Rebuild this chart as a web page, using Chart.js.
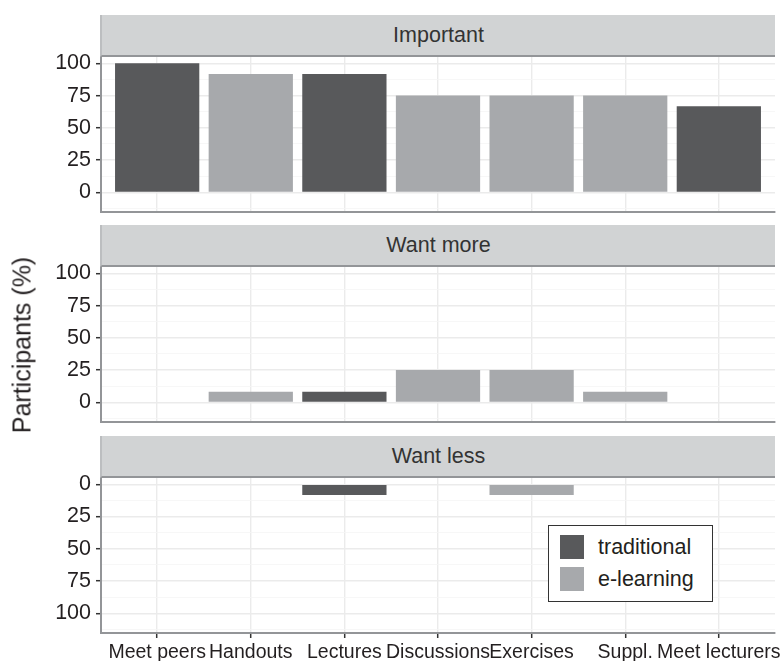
<!DOCTYPE html>
<html>
<head>
<meta charset="utf-8">
<script src="https://cdn.jsdelivr.net/npm/chart.js@4.4.1/dist/chart.umd.min.js"></script>
<style>
html,body{margin:0;padding:0;background:#fff;overflow:hidden}
#wrap{position:relative;width:782px;height:661px;font-family:"Liberation Sans",Arial,Helvetica,sans-serif;overflow:hidden}
canvas{position:absolute;left:0;z-index:1}
.strip{position:absolute;left:100px;width:675px;height:42px;background:#D1D3D4;border-bottom:2px solid #939598;border-left:2px solid #BCBEC0;box-sizing:border-box;display:flex;align-items:center;justify-content:center;font-size:21.5px;color:#333;z-index:2}
#ytitle{position:absolute;left:22px;top:345px;transform:translate(-50%,-50%) rotate(-90deg);white-space:nowrap;font-size:25px;color:#231F20;z-index:2}
#legend{position:absolute;left:548px;top:525px;width:165px;height:77px;border:1px solid #333;box-sizing:border-box;background:#fff;z-index:3}
.key{position:absolute;left:11px;width:24px;height:24px}
.lab{position:absolute;left:49px;font-size:21.5px;color:#231F20;line-height:24px}
</style>
</head>
<body>
<div id="wrap">
  <div class="strip" id="s0" style="top:15px"></div>
  <div class="strip" id="s1" style="top:225px"></div>
  <div class="strip" id="s2" style="top:436px"></div>
  <canvas id="c0" width="782" height="168" style="top:47px"></canvas>
  <canvas id="c1" width="782" height="168" style="top:257px"></canvas>
  <canvas id="c2" width="782" height="193" style="top:468px"></canvas>
  <div id="ytitle"></div>
  <div id="legend"></div>
</div>
<script>
// ---- data ----
const categories = ["Meet peers", "Handouts", "Lectures", "Discussions", "Exercises", "Suppl.", "Meet lecturers"];
const format = ["traditional", "e-learning", "traditional", "e-learning", "e-learning", "e-learning", "traditional"];
const important = [100, 91.67, 91.67, 75, 75, 75, 66.67];
const wantMore = [0, 8.33, 8.33, 25, 25, 8.33, 0];
const wantLess = [0, 0, 8.33, 0, 8.33, 0, 0];
const yTickLabels = [0, 25, 50, 75, 100];
const panelTitles = ["Important", "Want more", "Want less"];
const seriesNames = ["traditional", "e-learning"];
const yTitle = "Participants (%)";

// ---- styles ----
const FONT = '"Liberation Sans", Arial, Helvetica, sans-serif';
const colors = { "traditional": "#58595B", "e-learning": "#A7A9AC" };
Chart.defaults.font.family = FONT;

document.getElementById('ytitle').textContent = yTitle;
panelTitles.forEach((t, i) => document.getElementById('s' + i).textContent = t);

const lg = document.getElementById('legend');
seriesNames.forEach((n, i) => {
  const k = document.createElement('div');
  k.className = 'key'; k.style.top = (9 + i * 32) + 'px'; k.style.background = colors[n];
  const l = document.createElement('div');
  l.className = 'lab'; l.style.top = (9 + i * 32) + 'px'; l.textContent = n;
  lg.appendChild(k); lg.appendChild(l);
});

// grid values: labelled majors plus minor midpoints
const step = (yTickLabels[1] - yTickLabels[0]) / 2;
function gridValues(min, max) {
  const out = [];
  const lo = yTickLabels[0] - 2 * step, hi = yTickLabels[yTickLabels.length - 1] + 2 * step;
  for (let v = lo; v <= hi + 1e-9; v += step) {
    if (v >= min && v <= max) out.push(Math.round(v * 100) / 100);
  }
  return out;
}

function makePanel(id, values, cfg) {
  const isMajor = v => yTickLabels.includes(v);
  new Chart(document.getElementById(id), {
    type: 'bar',
    data: {
      datasets: [{
        data: categories.map((c, i) => ({ x: i, y: values[i] })),
        backgroundColor: format.map(f => colors[f]),
        borderWidth: 0,
        barPercentage: 0.9,
        categoryPercentage: 1
      }]
    },
    options: {
      responsive: false,
      animation: false,
      events: [],
      layout: { autoPadding: false, padding: { top: 10, right: 7, bottom: cfg.showX ? 0 : 3, left: 0 } },
      plugins: { legend: { display: false }, tooltip: { enabled: false } },
      scales: {
        x: {
          type: 'linear', bounds: 'data', min: -0.6, max: 6.6, offset: false,
          afterBuildTicks: s => { s.ticks = categories.map((c, i) => ({ value: i })); },
          afterFit: s => { s.height = cfg.showX ? 28 : 0; s.paddingLeft = 0; s.paddingRight = 0; s.paddingTop = 0; s.paddingBottom = 0; },
          ticks: {
            display: cfg.showX, autoSkip: false, maxRotation: 0, minRotation: 0,
            padding: 3, color: '#231F20', font: { size: 19.5 },
            callback: v => categories[v]
          },
          grid: { offset: false, color: '#EBEBEB', lineWidth: 1.4, drawTicks: cfg.showX, tickLength: 5, tickColor: '#333', tickWidth: 1.5 },
          border: { display: true, color: '#939598', width: 2 }
        },
        y: {
          type: 'linear', bounds: 'data', reverse: cfg.reverse, min: cfg.min, max: cfg.max,
          afterBuildTicks: s => { s.ticks = gridValues(cfg.min, cfg.max).map(v => ({ value: v })); },
          afterFit: s => { s.width = 101; s.paddingTop = 0; s.paddingBottom = 0; s.paddingLeft = 0; s.paddingRight = 0; },
          ticks: {
            autoSkip: false, padding: 5, color: '#231F20', font: { size: 21.5 },
            callback: v => isMajor(v) ? String(v) : ''
          },
          grid: {
            color: c => isMajor(c.tick.value) ? '#EBEBEB' : '#F5F5F5',
            lineWidth: c => isMajor(c.tick.value) ? 1.4 : 0.8,
            tickLength: 5,
            tickColor: c => isMajor(c.tick.value) ? '#333' : 'rgba(0,0,0,0)',
            tickWidth: 1.5
          },
          border: { display: true, color: '#939598', width: 2 }
        }
      }
    }
  });
}

makePanel('c0', important, { reverse: false, min: -15.2, max: 104.9, showX: false });
makePanel('c1', wantMore, { reverse: false, min: -15.2, max: 104.9, showX: false });
makePanel('c2', wantLess, { reverse: true, min: -4.9, max: 115.3, showX: true });
</script>
</body>
</html>
